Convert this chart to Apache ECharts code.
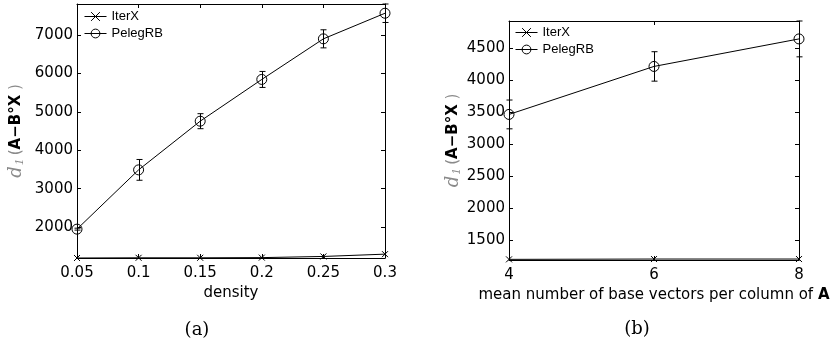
<!DOCTYPE html>
<html>
<head>
<meta charset="utf-8">
<script src="https://cdn.jsdelivr.net/npm/echarts@6/dist/echarts.min.js"></script>
<style>
  html, body { margin: 0; padding: 0; background: #fff; }
  #chart { width: 837px; height: 342px; }
</style>
</head>
<body>
<div id="chart"></div>
<script>
// (a) error vs. density
const densities = [0.05, 0.1, 0.15, 0.2, 0.25, 0.3];
const densityTicks = [0.05, 0.1, 0.15, 0.2, 0.25, 0.3];
const densityTickLabels = ['0.05', '0.1', '0.15', '0.2', '0.25', '0.3'];
const iterXA = [1200, 1205, 1205, 1210, 1240, 1300];
const pelegA = [1950, 3490, 4755, 5840, 6895, 7560];
const pelegErrA = [25, 270, 195, 208, 235, 240];
const yTicksA = [2000, 3000, 4000, 5000, 6000, 7000];

// (b) error vs. mean number of base vectors per column
const baseCounts = [4, 6, 8];
const baseTicks = [4, 6, 8];
const iterXB = [1195, 1200, 1200];
const pelegB = [3460, 4210, 4640];
const pelegErrB = [225, 230, 280];
const yTicksB = [1500, 2000, 2500, 3000, 3500, 4000, 4500];

const seriesNames = ['IterX', 'PelegRB'];
const captions = ['(a)', '(b)'];

const SANS = 'DejaVu Sans';
const crossSymbol = 'path://M0,0L10,10M0,10L10,0';

function zip(xs, ys) { return xs.map((x, i) => [x, ys[i]]); }
function bars(xs, ys, es) { return xs.map((x, i) => [x, ys[i] - es[i], ys[i] + es[i]]); }

// vertical error bar with short caps at both ends
function errorBarItem(params, api) {
  const x = api.value(0);
  const lo = api.coord([x, api.value(1)]);
  const hi = api.coord([x, api.value(2)]);
  const cx = Math.round(lo[0]) + 0.5;
  const cap = 3;
  const style = { stroke: '#000', lineWidth: 1, fill: null };
  return {
    type: 'group',
    children: [
      { type: 'line', shape: { x1: cx, y1: lo[1], x2: cx, y2: hi[1] }, style },
      { type: 'line', shape: { x1: cx - cap, y1: lo[1], x2: cx + cap, y2: lo[1] }, style },
      { type: 'line', shape: { x1: cx - cap, y1: hi[1], x2: cx + cap, y2: hi[1] }, style }
    ]
  };
}

const axisLine = { show: true, onZero: false, lineStyle: { color: '#000', width: 1 } };
const tickStyle = { color: '#000', width: 1 };
const labelFont = { fontFamily: SANS, fontSize: 15, color: '#000' };

const yNameRich = {
  d: { fontFamily: 'DejaVu Serif', fontStyle: 'italic', fontSize: 18, color: '#8a8a8a' },
  s: { fontFamily: 'DejaVu Serif', fontStyle: 'italic', fontSize: 11, color: '#8a8a8a', padding: [8, 3, 0, 1] },
  g: { fontFamily: SANS, fontSize: 15, color: '#8a8a8a' },
  b: { fontFamily: SANS, fontWeight: 'bold', fontSize: 15, color: '#000' }
};
const yName = '{d|d}{s|1}{g|(}{b|A\u2212B\u00b0X}{g| )}';

function xAxes(gridIndex, min, max, ticks, labels, name, nameGap) {
  return [
    {
      gridIndex, type: 'value', position: 'bottom', min, max,
      axisLine,
      axisTick: { inside: true, length: 4, lineStyle: tickStyle, customValues: ticks },
      axisLabel: Object.assign({ margin: 8, customValues: ticks,
        formatter: v => labels ? labels[ticks.findIndex(t => Math.abs(t - v) < 1e-9)] : String(v) }, labelFont),
      splitLine: { show: false },
      name, nameLocation: 'middle', nameGap,
      nameTextStyle: Object.assign({ rich: { b: { fontFamily: SANS, fontSize: 15, fontWeight: 'bold', color: '#000' } } }, labelFont)
    },
    {
      gridIndex, type: 'value', position: 'top', min, max,
      axisLine,
      axisTick: { inside: true, length: 4, lineStyle: tickStyle, customValues: ticks },
      axisLabel: { show: false },
      splitLine: { show: false }
    }
  ];
}

function yAxes(gridIndex, min, max, ticks, nameGap) {
  return [
    {
      gridIndex, type: 'value', position: 'left', min, max,
      axisLine,
      axisTick: { inside: true, length: 4, lineStyle: tickStyle, customValues: ticks },
      axisLabel: Object.assign({ margin: 4, customValues: ticks, formatter: v => String(v) }, labelFont),
      splitLine: { show: false },
      name: yName, nameLocation: 'middle', nameRotate: 90, nameGap,
      nameTextStyle: { rich: yNameRich }
    },
    {
      gridIndex, type: 'value', position: 'right', min, max,
      axisLine,
      axisTick: { inside: true, length: 4, lineStyle: tickStyle, customValues: ticks },
      axisLabel: { show: false },
      splitLine: { show: false }
    }
  ];
}

function panelSeries(axisIndex, xs, iter, peleg, err) {
  return [
    {
      name: seriesNames[0], type: 'line', xAxisIndex: axisIndex, yAxisIndex: axisIndex,
      data: zip(xs, iter), symbol: crossSymbol, symbolSize: 6,
      lineStyle: { color: '#000', width: 1 },
      itemStyle: { color: '#000', borderColor: '#000', borderWidth: 1 },
      animation: false, z: 3
    },
    {
      name: seriesNames[1], type: 'line', xAxisIndex: axisIndex, yAxisIndex: axisIndex,
      data: zip(xs, peleg), symbol: 'circle', symbolSize: 10,
      lineStyle: { color: '#000', width: 1 },
      itemStyle: { color: 'rgba(255,255,255,0)', borderColor: '#000', borderWidth: 1 },
      animation: false, z: 3
    },
    {
      type: 'custom', xAxisIndex: axisIndex, yAxisIndex: axisIndex,
      data: bars(xs, peleg, err), renderItem: errorBarItem,
      encode: { x: 0, y: [1, 2] }, animation: false, z: 2, silent: true
    }
  ];
}

const legendBase = {
  data: seriesNames, orient: 'vertical', selectedMode: false,
  itemWidth: 22, itemHeight: 11, itemGap: 4,
  itemStyle: { borderWidth: 1 },
  lineStyle: { width: 1 },
  textStyle: { fontFamily: 'Liberation Sans', fontSize: 13, color: '#000' },
  padding: 0
};

const option = {
  animation: false,
  backgroundColor: '#fff',
  grid: [
    { left: 77, top: 4, width: 308, height: 254 },
    { left: 509, top: 21, width: 290, height: 239 }
  ],
  xAxis: [
    ...xAxes(0, 0.05, 0.3, densityTicks, densityTickLabels, 'density', 22),
    ...xAxes(1, 4, 8, baseTicks, null, 'mean number of base vectors per column of {b|A}', 22)
  ],
  yAxis: [
    ...yAxes(0, 1200, 7800, yTicksA, 51),
    ...yAxes(1, 1185, 4920, yTicksB, 42)
  ],
  legend: [
    Object.assign({ left: 84, top: 10 }, legendBase),
    Object.assign({ left: 515, top: 26 }, legendBase)
  ],
  series: [
    ...panelSeries(0, densities, iterXA, pelegA, pelegErrA),
    ...panelSeries(2, baseCounts, iterXB, pelegB, pelegErrB)
  ],
  graphic: [
    { type: 'text', x: 197, y: 330, style: { text: captions[0], fontFamily: 'DejaVu Serif', fontSize: 18, fill: '#000', align: 'center', verticalAlign: 'middle' } },
    { type: 'text', x: 637, y: 329, style: { text: captions[1], fontFamily: 'DejaVu Serif', fontSize: 18, fill: '#000', align: 'center', verticalAlign: 'middle' } }
  ]
};

const chart = echarts.init(document.getElementById('chart'), null, { renderer: 'canvas' });
chart.setOption(option);
</script>
</body>
</html>
